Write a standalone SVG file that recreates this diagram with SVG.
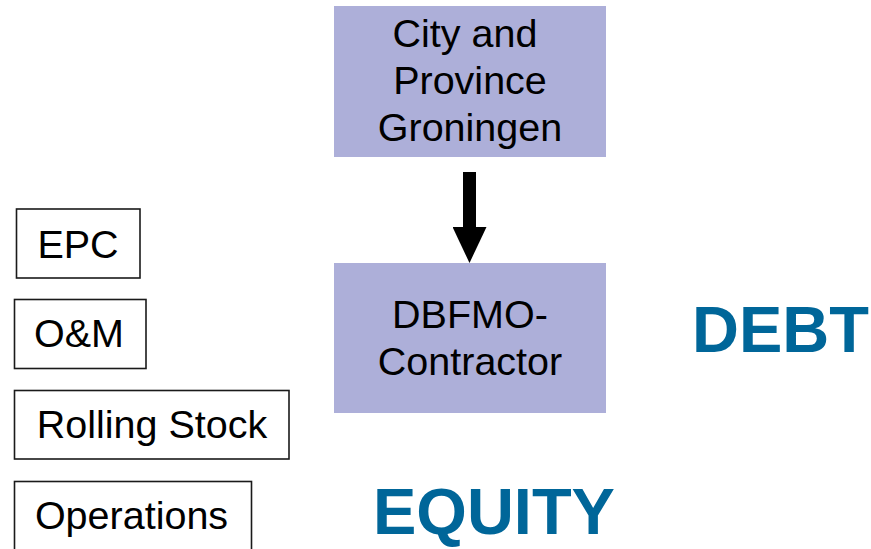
<svg xmlns="http://www.w3.org/2000/svg" width="871" height="549" viewBox="0 0 871 549">
<style>
.fill{fill:#ADAFD9;stroke:none}
.box{fill:#ffffff;stroke:#1a1a1a;stroke-width:1.6}
.t{font-family:"Liberation Sans",Arial,sans-serif;font-size:39.5px;fill:#000000;text-anchor:middle}
.big{font-family:"Liberation Sans",Arial,sans-serif;font-weight:bold;font-size:65px;fill:#006699}
</style>
<defs>
<marker id="head" markerUnits="userSpaceOnUse" markerWidth="36" markerHeight="34" refX="3" refY="17" orient="auto">
<path d="M0,0 L36,17 L0,34 Z" fill="#000000"/>
</marker>
</defs>
<rect width="871" height="549" fill="#ffffff"/>
<g id="connectors">
<line x1="469.5" y1="172" x2="469.5" y2="230" stroke="#000000" stroke-width="13" marker-end="url(#head)"/>
</g>
<g id="city">
<rect class="fill" x="334" y="6" width="272" height="151"/>
<text class="t" x="465" y="47">City and</text>
<text class="t" x="470" y="94">Province</text>
<text class="t" x="470" y="141">Groningen</text>
</g>
<g id="dbfmo">
<rect class="fill" x="334" y="263" width="272" height="150"/>
<text class="t" x="470" y="328">DBFMO-</text>
<text class="t" x="470" y="375">Contractor</text>
</g>
<g id="epc">
<rect class="box" x="16.5" y="209" width="123.5" height="69"/>
<text class="t" x="78" y="258">EPC</text>
</g>
<g id="om">
<rect class="box" x="14.5" y="299.5" width="131.5" height="69"/>
<text class="t" x="79" y="346.5">O&amp;M</text>
</g>
<g id="rolling">
<rect class="box" x="14.5" y="390.5" width="274.5" height="68.5"/>
<text class="t" x="152" y="438">Rolling Stock</text>
</g>
<g id="operations">
<rect class="box" x="14.5" y="481.5" width="237" height="80"/>
<text class="t" x="131.5" y="529">Operations</text>
</g>
<g id="debt">
<text class="big" x="692" y="352">DEBT</text>
</g>
<g id="equity">
<text class="big" x="373" y="534">EQUITY</text>
</g>
</svg>
